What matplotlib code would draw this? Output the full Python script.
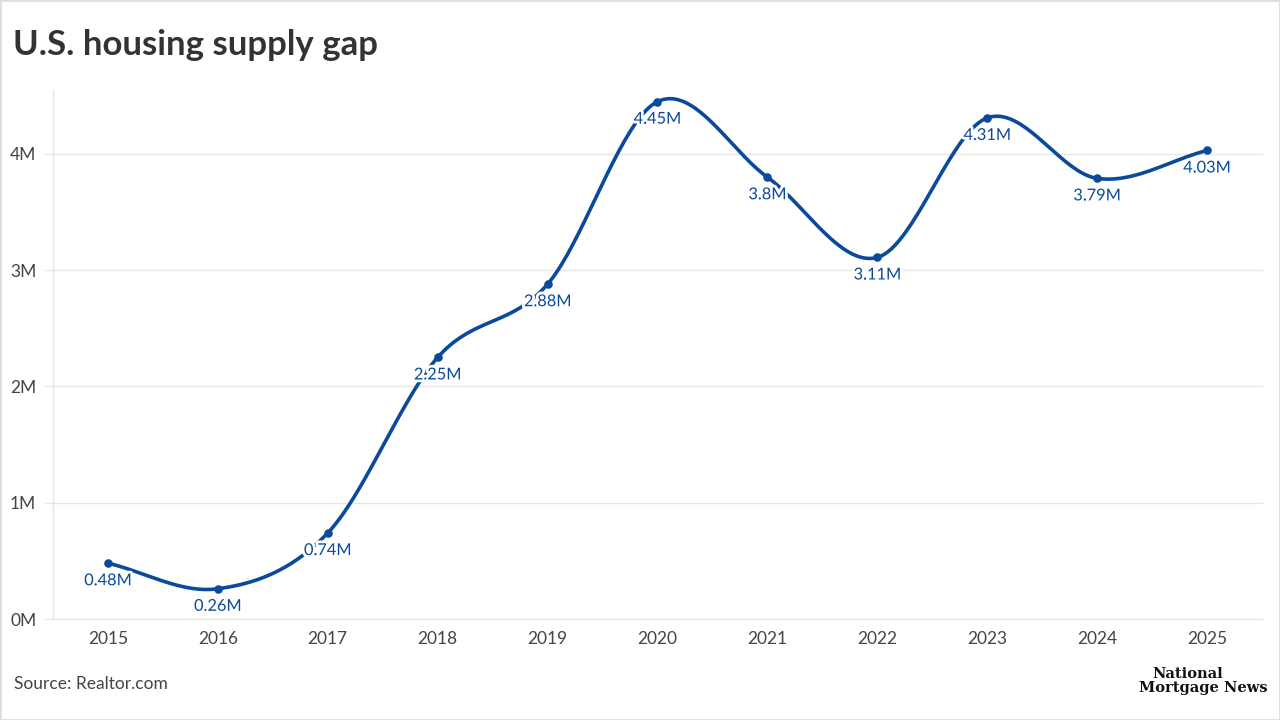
import numpy as np
import matplotlib
matplotlib.use('Agg')
import matplotlib.pyplot as plt
import matplotlib.patheffects as pe
from matplotlib.patches import Rectangle

# data (millions of homes)
years = [2015, 2016, 2017, 2018, 2019, 2020, 2021, 2022, 2023, 2024, 2025]
gap_millions = [0.48, 0.26, 0.74, 2.25, 2.88, 4.45, 3.8, 3.11, 4.31, 3.79, 4.03]
y_ticks = [0, 1, 2, 3, 4]

LINE = '#0b4a9b'
GRID = '#e6e6e6'
TEXT = '#444444'

plt.rcParams['font.family'] = ['Lato', 'DejaVu Sans']


def catmull_rom(x, y, steps=40):
    """Smooth curve through points (uniform Catmull-Rom), for drawing only"""
    x = np.asarray(x, float)
    y = np.asarray(y, float)
    px = np.concatenate([[2 * x[0] - x[1]], x, [2 * x[-1] - x[-2]]])
    py = np.concatenate([[2 * y[0] - y[1]], y, [2 * y[-1] - y[-2]]])
    out_x, out_y = [], []
    t = np.linspace(0, 1, steps)
    for i in range(1, len(px) - 2):
        for arr, res in ((px, out_x), (py, out_y)):
            p0, p1, p2, p3 = arr[i - 1], arr[i], arr[i + 1], arr[i + 2]
            res.extend(0.5 * ((2 * p1) + (-p0 + p2) * t
                              + (2 * p0 - 5 * p1 + 4 * p2 - p3) * t ** 2
                              + (-p0 + 3 * p1 - 3 * p2 + p3) * t ** 3))
    return np.array(out_x), np.array(out_y)


fig = plt.figure(figsize=(12.8, 7.2), dpi=100)
ax = fig.add_axes([53 / 1280, 101 / 720, 1209 / 1280, 529 / 720])

sx, sy = catmull_rom(years, gap_millions)
ax.plot(sx, sy, color=LINE, lw=2.6, solid_capstyle='round', zorder=3)
ax.scatter(years, gap_millions, s=38, color=LINE, zorder=4, linewidths=0)

halo = [pe.withStroke(linewidth=4, foreground='white')]
for x, v in zip(years, gap_millions):
    ax.annotate(f"{v:g}M", (x, v), xytext=(0, -13), textcoords='offset points',
                ha='center', va='center', fontsize=11.8, color=LINE,
                path_effects=halo, zorder=5)

ax.set_xlim(2014.5, 2025.5)
ax.set_ylim(0, 4.55)
ax.set_xticks(years)
ax.set_xticklabels([str(y) for y in years])
ax.set_yticks(y_ticks)
ax.set_yticklabels([f"{t}M" for t in y_ticks])
ax.tick_params(axis='both', length=0, labelsize=12.5, labelcolor=TEXT)
ax.tick_params(axis='x', pad=9)
ax.tick_params(axis='y', pad=12)

for t in y_ticks:
    ax.plot([2014.43, 2025.5], [t, t], color=GRID, lw=1, zorder=1, clip_on=False)

for side in ['top', 'right', 'bottom']:
    ax.spines[side].set_visible(False)
ax.spines['left'].set_color(GRID)
ax.spines['left'].set_linewidth(1)

fig.text(13 / 1280, 1 - 45 / 720, "U.S. housing supply gap", fontsize=25,
         fontweight='bold', color='#333333', va='center', ha='left')
fig.text(14 / 1280, 1 - 684 / 720, "Source: Realtor.com", fontsize=12.5,
         color=TEXT, va='center', ha='left')

# publisher wordmark
fig.text(1188 / 1280, 1 - 674 / 720, "National", fontsize=10.5, fontweight='bold',
         family='DejaVu Serif', color='#111111', ha='center', va='center')
fig.text(1203 / 1280, 1 - 688 / 720, "Mortgage News", fontsize=10.5, fontweight='bold',
         family='DejaVu Serif', color='#111111', ha='center', va='center')

fig.patches.append(Rectangle((0, 0), 1, 1, transform=fig.transFigure, fill=False,
                             edgecolor='#dddddd', lw=2))

fig.savefig('out.png', dpi=100, facecolor='white')
